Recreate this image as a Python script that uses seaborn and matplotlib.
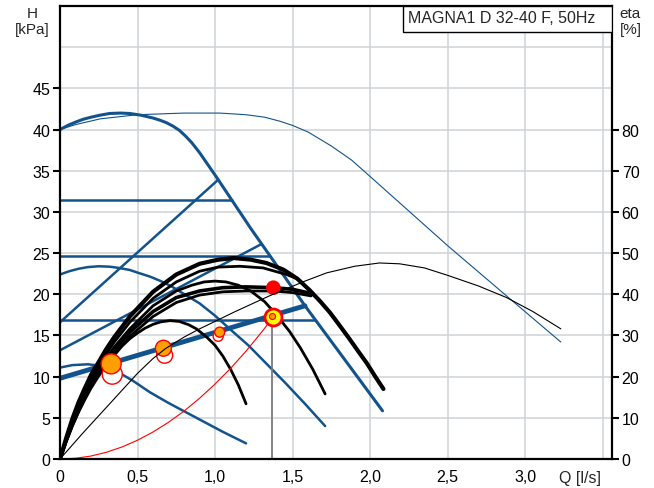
import numpy as np
import matplotlib.pyplot as plt
import seaborn as sns
from matplotlib.patches import Rectangle

BLUE = "#13538c"

# max speed curve
max_q = [0, 0.05, 0.1, 0.15, 0.2, 0.26, 0.32, 0.39, 0.45, 0.52, 0.6, 0.65, 0.69, 0.73,
         0.77, 0.81, 0.85, 0.9, 1.01, 1.23, 1.58, 2.08]
max_h = [40.0, 40.5, 40.9, 41.25, 41.5, 41.75, 41.95, 42.0, 41.95, 41.75, 41.4, 41.1, 40.8,
         40.4, 39.9, 39.2, 38.4, 37.2, 34.2, 28.0, 18.6, 5.85]

# thin blue curve
thin_q = [0, 0.1, 0.26, 0.5, 0.8, 1.03, 1.2, 1.32, 1.42, 1.5, 1.6, 1.75, 1.88, 2.0,
          2.25, 2.5, 2.88, 3.23]
thin_h = [40.0, 40.6, 41.3, 41.8, 42.0, 42.0, 41.8, 41.5, 41.0, 40.5, 39.7, 38.0, 36.3,
          34.3, 30.1, 25.9, 19.8, 14.2]

# constant curves I and II
c1_q = [0, 0.08, 0.18, 0.27, 0.37, 0.47, 0.58, 0.7, 0.9, 1.05, 1.2]
c1_h = [11.1, 11.4, 11.5, 11.3, 10.6, 9.5, 8.1, 6.8, 4.8, 3.3, 1.9]
c2_q = [0, 0.06, 0.12, 0.18, 0.25, 0.32, 0.38, 0.45, 0.505, 0.58, 0.65, 0.72, 0.785,
        0.9, 1.0, 1.1, 1.215, 1.33, 1.45, 1.58, 1.71]
c2_h = [22.4, 22.8, 23.1, 23.3, 23.4, 23.35, 23.2, 22.95, 22.6, 22.15, 21.6, 20.95, 20.2,
        18.9, 17.4, 15.7, 13.8, 11.6, 9.3, 6.7, 4.0]

# constant pressure lines (H, end Q)
cp_h = [31.5, 24.6, 16.85]
cp_end = [1.11, 1.35, 1.645]

# proportional pressure lines (start H, end Q, end H)
pp_start = [16.6, 13.2]
pp_end_q = [1.02, 1.30]
pp_end_h = [33.9, 26.1]

# autoadapt line
auto_q = [0, 1.58]
auto_h = [9.8, 18.6]

# black curves
start_q = [0, 0.04, 0.08, 0.12, 0.16, 0.2, 0.25, 0.3, 0.35]
b_q = [
    start_q + [0.4, 0.45, 0.5, 0.55, 0.6, 0.65, 0.71, 0.77, 0.83, 0.88, 0.946, 1.0, 1.05,
               1.1, 1.15, 1.2],
    start_q + [0.45, 0.6, 0.75, 0.85, 0.93, 1.0, 1.07, 1.15, 1.23, 1.32, 1.40, 1.48, 1.55,
               1.63, 1.71],
    start_q + [0.45, 0.6, 0.75, 0.9, 1.05, 1.2, 1.38, 1.5, 1.62],
    start_q + [0.45, 0.6, 0.75, 0.9, 1.05, 1.2, 1.38, 1.5, 1.62],
    start_q + [0.45, 0.6, 0.75, 0.9, 1.02, 1.16, 1.31, 1.46, 1.53],
    start_q + [0.45, 0.6, 0.75, 0.9, 1.02, 1.12, 1.23, 1.33, 1.44, 1.53, 1.61, 1.68, 1.74,
               1.8, 1.87, 1.93, 1.98, 2.03, 2.086],
]
b_h = [
    [0, 2.1, 4.0, 5.7, 7.2, 8.6, 10.1, 11.4, 12.6, 13.7, 14.6, 15.3, 15.9, 16.35, 16.65,
     16.8, 16.7, 16.3, 15.8, 14.8, 13.8, 12.5, 10.9, 9.0, 6.7],
    [0, 2.3, 4.4, 6.2, 7.9, 9.4, 10.9, 12.3, 13.6, 15.8, 18.6, 20.4, 21.1, 21.5, 21.6,
     21.5, 21.1, 20.4, 19.1, 17.4, 15.5, 13.5, 10.9, 7.9],
    [0, 2.15, 4.1, 5.8, 7.4, 8.8, 10.2, 11.6, 12.8, 14.9, 17.3, 19.0, 19.9, 20.3, 20.4,
     20.4, 20.2, 19.8],
    [0, 2.25, 4.3, 6.1, 7.7, 9.1, 10.6, 12.0, 13.3, 15.4, 17.9, 19.6, 20.4, 20.8, 20.9,
     20.8, 20.6, 20.1],
    [0, 2.4, 4.6, 6.5, 8.2, 9.8, 11.3, 12.8, 14.2, 16.6, 19.5, 21.5, 22.8, 23.3, 23.4,
     23.2, 22.4, 21.9],
    [0, 2.55, 4.9, 6.9, 8.6, 10.2, 11.8, 13.4, 14.8, 17.3, 20.3, 22.4, 23.7, 24.2, 24.4,
     24.2, 23.8, 23.0, 21.9, 20.5, 19.1, 17.8, 16.3, 14.5, 12.9, 11.6, 10.1, 8.5],
]
b_lw = [2.0, 2.0, 2.0, 2.6, 2.0, 3.0]

# efficiency curve (right axis)
eta_q = [0, 0.15, 0.33, 0.5, 0.6, 0.68, 0.8, 0.9, 1.01, 1.13, 1.35, 1.58, 1.72, 1.9,
         2.06, 2.19, 2.35, 2.5, 2.7, 2.88, 3.05, 3.23]
eta = [0, 6.4, 13.8, 20.8, 24.4, 26.8, 29.6, 31.6, 33.6, 35.8, 39.6, 43.2, 45.2, 46.8,
       47.6, 47.4, 46.4, 44.6, 42.0, 39.2, 35.8, 31.6]

# system curve
sys_q = [0, 0.1, 0.2, 0.3, 0.4, 0.5, 0.6, 0.7, 0.8, 0.9, 1.0, 1.1, 1.2, 1.3, 1.37]
sys_h = [0, 0.09, 0.36, 0.82, 1.46, 2.28, 3.28, 4.46, 5.82, 7.37, 9.1, 11.0, 13.1, 15.4, 17.1]
duty_q = 1.37
duty_h = 17.1

# operating points
op_q = [0.33, 0.667, 1.03]
op_h = [11.55, 13.45, 15.4]
op_s = [207, 132, 52]
ring_q = [0.337, 0.675, 1.02, 1.355]
ring_h = [10.3, 12.6, 14.9, 16.8]
ring_s = [207, 132, 52, 19]

xtick_vals = [0, 0.5, 1.0, 1.5, 2.0, 2.5, 3.0, 3.5]
xtick_labels = ["0", "0,5", "1,0", "1,5", "2,0", "2,5", "3,0", ""]
ytick_vals = [0, 5, 10, 15, 20, 25, 30, 35, 40, 45]
eta_ticks = [0, 10, 20, 30, 40, 50, 60, 70, 80]

sns.set_theme(style="white")
plt.rcParams['font.family'] = ['Liberation Sans', 'DejaVu Sans']

fig = plt.figure(figsize=(6.54, 4.89), dpi=100)
ax = fig.add_axes([60 / 654, 29 / 489, 552 / 654, 453 / 489])
ax.set_xlim(0, 3.56)
ax.set_ylim(0, 55)

ax.set_xticks(xtick_vals)
ax.set_xticklabels(xtick_labels)
ax.set_yticks(ytick_vals)
ax.set_yticks([50], minor=True)
ax.grid(True, which='both', color='#d0d3d6', lw=1.1)
ax.set_axisbelow(True)
ax.tick_params(axis='y', which='minor', length=0)
ax.tick_params(axis='y', which='major', direction='out', length=5, width=1.5,
               colors='black', labelsize=11.5, pad=2)
ax.tick_params(axis='x', direction='out', length=4, width=1.5,
               colors='black', labelsize=11.5, pad=3)
for sp in ax.spines.values():
    sp.set_color('black')
    sp.set_linewidth(1.6)

# blue lines
for h, qe in zip(cp_h, cp_end):
    sns.lineplot(x=[0, qe], y=[h, h], ax=ax, color=BLUE, lw=1.8, estimator=None, sort=False)
for h0, qe, he in zip(pp_start, pp_end_q, pp_end_h):
    sns.lineplot(x=[0, qe], y=[h0, he], ax=ax, color=BLUE, lw=1.8, estimator=None, sort=False)
sns.lineplot(x=c1_q, y=c1_h, ax=ax, color=BLUE, lw=1.8, estimator=None, sort=False)
sns.lineplot(x=c2_q, y=c2_h, ax=ax, color=BLUE, lw=1.8, estimator=None, sort=False)
sns.lineplot(x=thin_q, y=thin_h, ax=ax, color=BLUE, lw=0.8, estimator=None, sort=False)
sns.lineplot(x=max_q, y=max_h, ax=ax, color=BLUE, lw=2.2, estimator=None, sort=False)
sns.lineplot(x=auto_q, y=auto_h, ax=ax, color=BLUE, lw=3.5, estimator=None, sort=False)

# black curves
for q, h, w in zip(b_q, b_h, b_lw):
    sns.lineplot(x=q, y=h, ax=ax, color='black', lw=w, estimator=None, sort=False)

# system curve and duty line
sns.lineplot(x=sys_q, y=sys_h, ax=ax, color='red', lw=0.8, estimator=None, sort=False)
sns.lineplot(x=[duty_q, duty_q], y=[0, duty_h], ax=ax, color='#7a7a7a', lw=1.3,
             estimator=None, sort=False)

# markers
ax.scatter(ring_q, ring_h, s=ring_s, facecolor='white', edgecolor='red', lw=1.0, zorder=5)
ax.scatter(op_q, op_h, s=op_s, facecolor='#ffa000', edgecolor='red', lw=1.0, zorder=6)
ax.scatter([1.376], [17.3], s=150, facecolor='yellow', edgecolor='red', lw=2.0, zorder=6)
ax.scatter([1.365], [17.35], s=19, facecolor='#ffa000', edgecolor='red', lw=0.8, zorder=7)
ax.scatter([1.376], [20.8], s=110, facecolor='red', edgecolor='none', zorder=6)

ax.set_xlabel('')
ax.set_ylabel('')
ax.text(3.49, -0.0508, 'Q [l/s]', transform=ax.get_xaxis_transform(),
        ha='right', va='baseline', fontsize=11.5)

# right axis
ax2 = ax.twinx()
ax2.set_ylim(0, 110)
ax2.set_yticks(eta_ticks)
ax2.tick_params(axis='y', direction='out', length=5, width=1.5, colors='black',
                labelsize=11.5, pad=2)
for sp in ax2.spines.values():
    sp.set_visible(False)
sns.lineplot(x=eta_q, y=eta, ax=ax2, color='black', lw=0.8, estimator=None, sort=False)
ax2.set_ylabel('')

# title box
ax2.add_patch(Rectangle((0.6214, 0.9426), 0.3786, 0.0574, transform=ax2.transAxes,
                        facecolor='white', edgecolor='black', lw=1.0, zorder=10))
ax2.text(0.630, 0.9647, 'MAGNA1 D 32-40 F, 50Hz', transform=ax2.transAxes,
         ha='left', va='baseline', fontsize=11.5, zorder=11)

fig.text(32 / 654, 1 - 14 / 489, 'H', ha='center', va='center', fontsize=11)
fig.text(32 / 654, 1 - 30 / 489, '[kPa]', ha='center', va='center', fontsize=11)
fig.text(619 / 654, 1 - 14 / 489, 'eta', ha='left', va='center', fontsize=11)
fig.text(620 / 654, 1 - 30 / 489, '[%]', ha='left', va='center', fontsize=11)

fig.savefig('out.png', dpi=100)
